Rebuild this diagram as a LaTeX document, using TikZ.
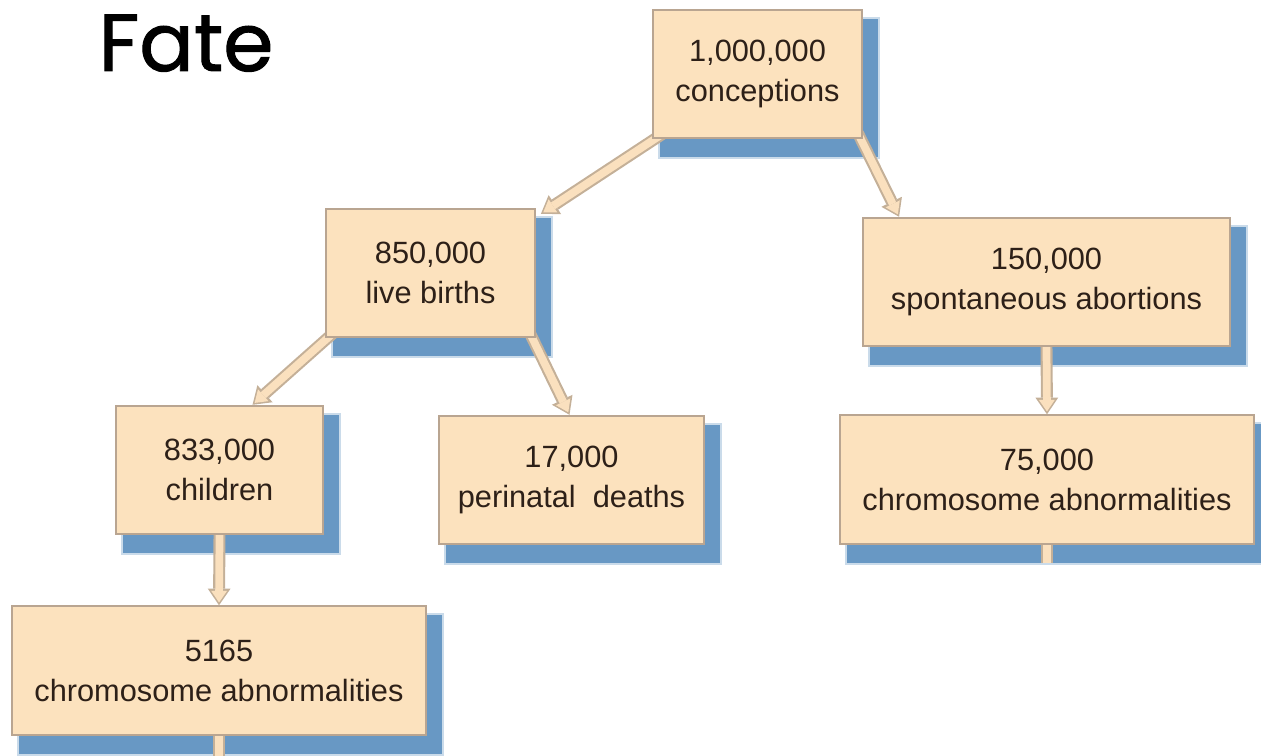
\documentclass[tikz,border=0pt]{standalone}
\usepackage{fontspec}
\setmainfont{Liberation Sans}
\newfontfamily\titlefont[FakeBold=1.2]{Poppins}
\usetikzlibrary{arrows.meta}
\definecolor{boxfill}{RGB}{252, 226, 190}
\definecolor{boxedge}{RGB}{185, 165, 145}
\definecolor{shadowblue}{RGB}{104, 152, 196}
\definecolor{flowfill}{RGB}{250, 224, 190}
\definecolor{flowedge}{RGB}{196, 176, 152}
\definecolor{ink}{RGB}{45, 32, 24}
\pgfdeclarelayer{shade}
\pgfdeclarelayer{flow}
\pgfsetlayers{shade,flow,main}

\begin{document}
\begin{tikzpicture}[x=0.02cm, y=-0.02cm,
    fatebox/.style={draw=boxedge, line width=1.1pt, fill=boxfill, text=ink,
      minimum height=2.57cm, inner sep=0pt, align=center,
      font=\fontsize{17.5}{22.8}\selectfont},
    flow/.style={draw=flowedge, line width=6.8pt,
      -{Triangle[width=13pt, length=9.5pt, line width=0pt]},
      postaction={draw=flowfill, line width=4.4pt, shorten >=1.6pt,
        -{Triangle[width=9pt, length=6.6pt, line width=0pt]}}},
    stub/.style={draw=flowedge, line width=6.8pt,
      postaction={draw=flowfill, line width=4.4pt}}]
  \useasboundingbox (0, 0) rectangle (1261, 756);

  \node[font=\titlefont\fontsize{46}{56}\selectfont, anchor=base] (title) at (186, 71) {Fate};

  \node[fatebox, minimum width=4.18cm] (conc) at (757.5, 74) {1,000,000\\conceptions};
  \node[fatebox, minimum width=4.18cm] (live) at (430.5, 273) {850,000\\live births};
  \node[fatebox, minimum width=7.34cm] (abort) at (1046.5, 282) {150,000\\spontaneous abortions};
  \node[fatebox, minimum width=4.14cm] (kids) at (219.5, 470) {833,000\\children};
  \node[fatebox, minimum width=5.30cm] (peri) at (571.5, 480) {17,000\\perinatal\ \ deaths};
  \node[fatebox, minimum width=8.28cm] (kidsabn) at (219, 670.5) {5165\\chromosome abnormalities};
  \node[fatebox, minimum width=8.28cm] (abortabn) at (1047, 479.5) {75,000\\chromosome abnormalities};

  \begin{pgfonlayer}{shade}
    \foreach \b in {conc, live, abort, kids, peri, kidsabn, abortabn} {
      \fill[shadowblue!35] ([shift={(6, 8)}]\b.north west) rectangle ([shift={(17, 20)}]\b.south east);
      \fill[shadowblue] ([shift={(8, 10)}]\b.north west) rectangle ([shift={(15, 18)}]\b.south east);
    }
  \end{pgfonlayer}

  \begin{pgfonlayer}{flow}
    \draw[flow] ([shift={(10, -5)}]conc.south west) -- ([shift={(5, 6)}]live.north east);
    \draw[flow] ([shift={(-5, -6)}]conc.south east) -- ([shift={(37, 0)}]abort.north west);
    \draw[flow] ([shift={(8, -5)}]live.south west) -- ([shift={(33, 0)}]kids.north);
    \draw[flow] ([shift={(-6, -5)}]live.south east) -- ([shift={(-2, 0)}]peri.north);
    \draw[flow] (kids.south) -- (kidsabn.north);
    \draw[flow] (abort.south) -- (abortabn.north);
    \draw[stub] (abortabn.south) -- ++(0, 18);
    \draw[stub] (kidsabn.south) -- ++(0, 30);
  \end{pgfonlayer}
\end{tikzpicture}
\end{document}
